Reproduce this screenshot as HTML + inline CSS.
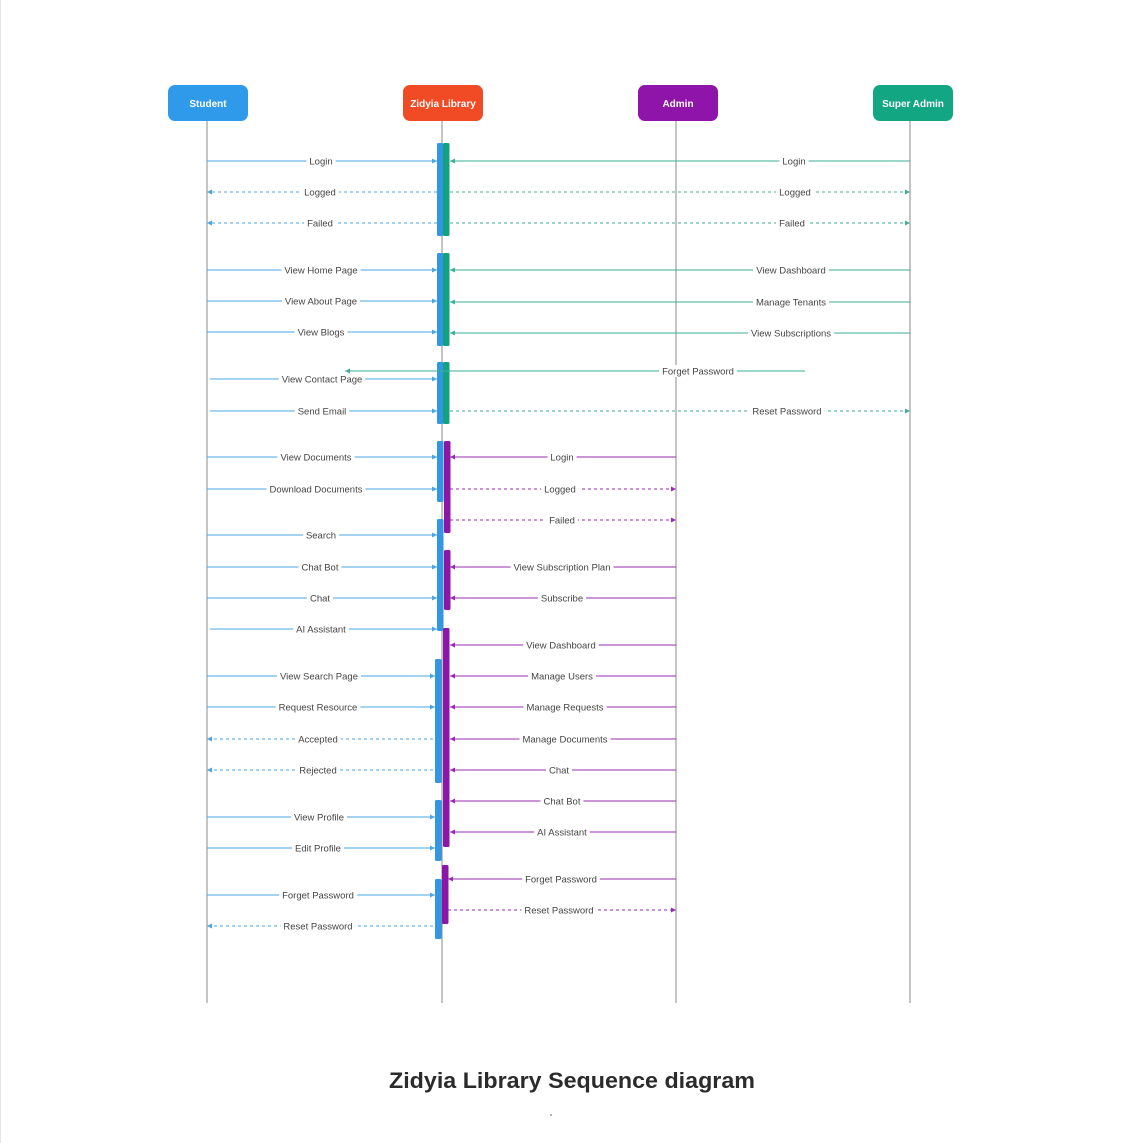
<!DOCTYPE html>
<html><head><meta charset="utf-8"><style>
html,body{margin:0;padding:0;background:#fff;}
svg{display:block;}
text{font-family:"Liberation Sans",sans-serif;}
</style></head><body>
<svg id="d" width="1121" height="1143" viewBox="0 0 1121 1143" xmlns="http://www.w3.org/2000/svg">
<line x1="0.5" y1="0" x2="0.5" y2="1143" stroke="#e4e4e4"/>
<g id="life"></g><g id="acts"></g><g id="msgs"></g><g id="heads"></g>
<text x="572" y="1088" text-anchor="middle" font-size="22" font-weight="bold" fill="#2b2b2b" textLength="366" lengthAdjust="spacingAndGlyphs">Zidyia Library Sequence diagram</text>
<circle cx="551" cy="1115" r="0.8" fill="#555"/>
</svg>
<script>
const actorNames=["Student","Zidyia Library","Admin","Super Admin"];
const actorX=[208,443,678,913];
const lifeX=[207,442,676,910];
const actorColors=["#2f9ae9","#f04b24","#8f14a9","#13a683"];
const lineColors={b:"#4aa5e4",g:"#3fae98",p:"#9a2bb0"};
// messages: label, y, from x, to x, color key, dashed
const msgLabels=["Login","Logged","Failed","View Home Page","View About Page","View Blogs","View Contact Page","Send Email","View Documents","Download Documents","Search","Chat Bot","Chat","AI Assistant","View Search Page","Request Resource","Accepted","Rejected","View Profile","Edit Profile","Forget Password","Reset Password",
"Login","Logged","Failed","View Dashboard","Manage Tenants","View Subscriptions","Forget Password","Reset Password",
"Login","Logged","Failed","View Subscription Plan","Subscribe","View Dashboard","Manage Users","Manage Requests","Manage Documents","Chat","Chat Bot","AI Assistant","Forget Password","Reset Password"];
const msgY=[161,192,223,270,301,332,379,411,457,489,535,567,598,629,676,707,739,770,817,848,895,926,
161,192,223,270,302,333,371,411,
457,489,520,567,598,645,676,707,739,770,801,832,879,910];
const msgFrom=[207,437,437,207,207,207,210,210,207,207,207,207,207,210,207,207,433,433,207,207,207,433,
910,450,450,910,910,910,805,450,
676,450,450,676,676,676,676,676,676,676,676,676,676,448];
const msgTo=[437,207,207,437,437,437,437,437,437,437,437,437,437,437,435,435,207,207,435,435,435,207,
450,910,910,450,450,450,345,910,
450,676,676,450,450,450,450,450,450,450,450,450,448,676];
const msgLabelX=[321,320,320,321,321,321,322,322,316,316,321,320,320,321,319,318,318,318,319,318,318,318,
794,795,792,791,791,791,698,787,
562,560,562,562,562,561,562,565,565,559,562,562,561,559];
const msgColor="bbbbbbbbbbbbbbbbbbbbbbggggggggpppppppppppppp";
const msgDash=[0,1,1,0,0,0,0,0,0,0,0,0,0,0,0,0,1,1,0,0,0,1, 0,1,1,0,0,0,0,1, 0,1,1,0,0,0,0,0,0,0,0,0,0,1];
// activation bars: x, top, bottom, color key
const actX=[437,443,437,443,437,443,437,444,437,444,443,435,435,442,435];
const actTop=[143,143,253,253,362,362,441,441,519,550,628,659,800,865,879];
const actBot=[236,236,346,346,424,424,502,533,631,610,847,783,861,924,939];
const actColor="bgbgbgbpbppbbpb";
const actFill={b:"#3196e3",g:"#14a17f",p:"#8c16a8"};

const NS="http://www.w3.org/2000/svg";
function mk(tag,attrs,parent){const e=document.createElementNS(NS,tag);for(const k in attrs)e.setAttribute(k,attrs[k]);parent.appendChild(e);return e;}
const life=document.getElementById('life'),acts=document.getElementById('acts'),msgs=document.getElementById('msgs'),heads=document.getElementById('heads');

actorNames.forEach((n,i)=>{
  const l=mk('line',{x1:lifeX[i],y1:121,x2:lifeX[i],y2:1003,stroke:"#8a8a8a","stroke-width":1},life);
  
  
  const g=mk('g',{},heads);
  
  
  mk('rect',{x:actorX[i]-40,y:85,width:80,height:36,rx:7,fill:actorColors[i]},g);
  const t=mk('text',{x:actorX[i],y:107,"text-anchor":"middle","font-size":10,"font-weight":"bold",fill:"#fff"},g);
  t.textContent=n;
});

actX.forEach((x,i)=>{
  const r=mk('rect',{x:x,y:actTop[i],width:6.5,height:actBot[i]-actTop[i],rx:1.5,fill:actFill[actColor[i]]},acts);
  
  
});

msgLabels.forEach((lab,i)=>{
  const g=mk('g',{},msgs);
  
  
  const c=lineColors[msgColor[i]],y=msgY[i],x1=msgFrom[i],x2=msgTo[i];
  const a={x1:x1,y1:y,x2:x2,y2:y,stroke:c,"stroke-width":1};
  if(msgDash[i])a["stroke-dasharray"]="3,3";
  mk('line',a,g);
  const d=x2>x1?-1:1;
  mk('polygon',{points:`${x2},${y} ${x2+d*5},${y-2.5} ${x2+d*5},${y+2.5}`,fill:c},g);
  const t=mk('text',{x:msgLabelX[i],y:y+3.5,"text-anchor":"middle","font-size":9.5,fill:"#444"},g);
  t.textContent=lab;
  const w=t.getComputedTextLength();
  const bg=mk('rect',{x:msgLabelX[i]-w/2-3,y:y-6,width:w+6,height:12,fill:"#fff"},g);
  g.insertBefore(bg,t);
});
</script>
</body></html>
